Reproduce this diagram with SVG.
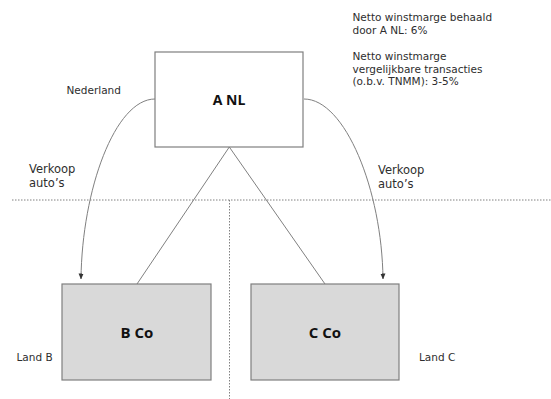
<svg xmlns="http://www.w3.org/2000/svg" width="551" height="399" viewBox="0 0 551 399">
<style>
.box{stroke:#7f7f7f;stroke-width:1.2}
.white{fill:#ffffff}
.grey{fill:#d9d9d9}
.title{font-family:"Open Sans","DejaVu Sans",sans-serif;font-weight:bold;font-size:14px;fill:#111;text-anchor:middle}
.sub{font-size:15px}
.lbl{font-family:"DejaVu Sans",sans-serif;font-size:10.5px;fill:#2e2e2e}
.big{font-family:"DejaVu Sans",sans-serif;font-size:11.5px;fill:#2e2e2e}
.conn{fill:none;stroke:#808080;stroke-width:1}
.dot{fill:none;stroke:#808080;stroke-width:1;stroke-dasharray:1.5,1.5}
</style>
<defs>
<marker id="arr" viewBox="0 0 6 6" refX="5.5" refY="3" markerWidth="6" markerHeight="6" markerUnits="userSpaceOnUse" orient="auto">
<path d="M0,0.5 L6,3 L0,5.5 Z" fill="#333"/>
</marker>
</defs>
<rect width="551" height="399" fill="#ffffff"/>
<g id="borders">
<line class="dot" x1="12" y1="200" x2="551" y2="200"/>
<line class="dot" x1="229.5" y1="200" x2="229.5" y2="399"/>
</g>
<g id="connectors">
<path class="conn" d="M155,99 C115,99 82,190 81,279" marker-end="url(#arr)"/>
<path class="conn" d="M304,99 C345,99 382,190 383,279" marker-end="url(#arr)"/>
<line class="conn" x1="229.3" y1="147" x2="137" y2="284"/>
<line class="conn" x1="229.3" y1="147" x2="325" y2="284"/>
</g>
<g id="node-anl">
<rect class="box white" x="155" y="52" width="148" height="95"/>
<text class="title" x="229" y="105">A NL</text>
</g>
<g id="node-bco">
<rect class="box grey" x="62" y="284" width="149" height="96"/>
<text class="title sub" x="137" y="338">B Co</text>
</g>
<g id="node-cco">
<rect class="box grey" x="251" y="284" width="148" height="96"/>
<text class="title sub" x="325" y="338">C Co</text>
</g>
<g id="labels">
<text class="lbl" x="66.5" y="94">Nederland</text>
<text class="lbl" x="16.5" y="361">Land B</text>
<text class="lbl" x="419" y="361">Land C</text>
<text class="big" x="29" y="173">Verkoop</text>
<text class="big" x="29" y="187">auto’s</text>
<text class="big" x="378" y="173.5">Verkoop</text>
<text class="big" x="378" y="187.5">auto’s</text>
<text class="lbl" x="352.5" y="21">Netto winstmarge behaald</text>
<text class="lbl" x="352.5" y="33.5">door A NL: 6%</text>
<text class="lbl" x="352.5" y="60">Netto winstmarge</text>
<text class="lbl" x="352.5" y="72.5">vergelijkbare transacties</text>
<text class="lbl" x="352.5" y="85">(o.b.v. TNMM): 3-5%</text>
</g>
</svg>
